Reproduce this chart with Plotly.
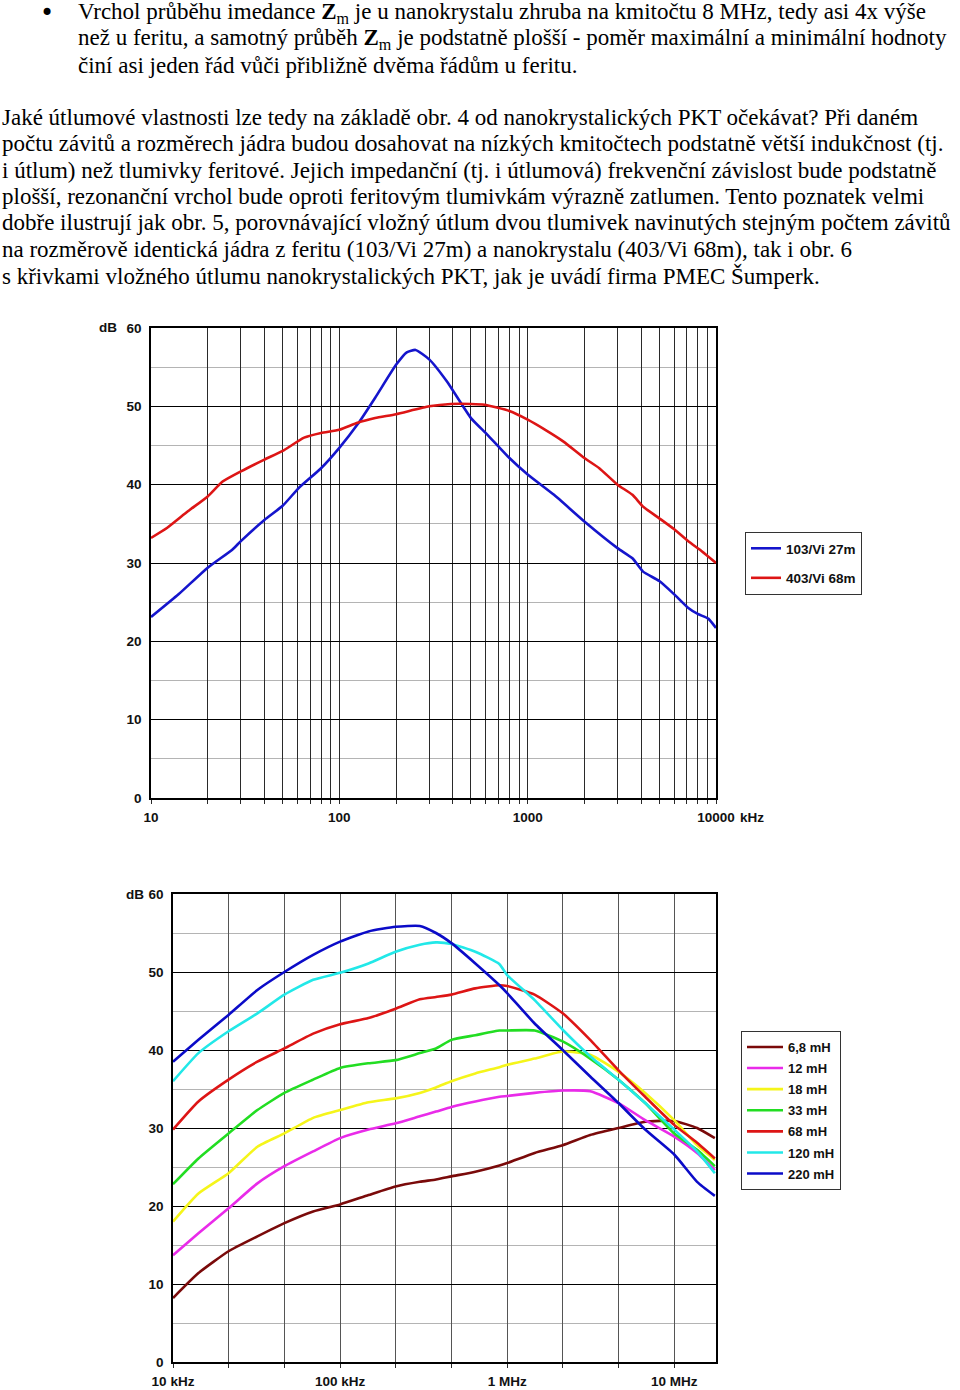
import plotly.graph_objects as go

# ---------------- Text ----------------
bullet_lines = [
    "Vrchol průběhu imedance <b>Z</b><sub>m</sub> je u nanokrystalu zhruba na kmitočtu 8 MHz, tedy asi 4x výše",
    "než u feritu, a samotný průběh <b>Z</b><sub>m</sub> je podstatně plošší - poměr maximální a minimální hodnoty",
    "činí asi jeden řád vůči přibližně dvěma řádům u feritu.",
]
para_lines = [
    "Jaké útlumové vlastnosti lze tedy na základě obr. 4 od nanokrystalických PKT očekávat? Při daném",
    "počtu závitů a rozměrech jádra budou dosahovat na nízkých kmitočtech podstatně větší indukčnost (tj.",
    "i útlum) než tlumivky feritové. Jejich impedanční (tj. i útlumová) frekvenční závislost bude podstatně",
    "plošší, rezonanční vrchol bude oproti feritovým tlumivkám výrazně zatlumen. Tento poznatek velmi",
    "dobře ilustrují jak obr. 5, porovnávající vložný útlum dvou tlumivek navinutých stejným počtem závitů",
    "na rozměrově identická jádra z feritu (103/Vi 27m) a nanokrystalu (403/Vi 68m), tak i obr. 6",
    "s křivkami vložného útlumu nanokrystalických PKT, jak je uvádí firma PMEC Šumperk.",
]

# ---------------- Chart 1 data (kHz, dB) ----------------
c1_names = ["103/Vi 27m", "403/Vi 68m"]
c1_colors = ["#1515cc", "#dd1515"]
c1_blue_f = [10, 14, 20, 27, 30, 40, 50, 61, 80, 100, 125, 155, 200, 228, 254, 300, 372, 500, 610, 800,
             1000, 1380, 2000, 3000, 3600, 4100, 5000, 6000, 7100, 8000, 9100, 10000]
c1_blue_db = [23.1, 26.0, 29.4, 31.7, 32.8, 35.5, 37.3, 39.6, 42.1, 44.7, 47.7, 51.1, 55.3, 56.9, 57.2, 56.0,
              53.2, 48.5, 46.4, 43.4, 41.3, 38.7, 35.3, 31.9, 30.6, 28.9, 27.7, 26.0, 24.3, 23.5, 22.9, 21.7]
c1_red_f = [10, 12.2, 15.7, 20, 24, 30, 40, 50, 65, 80, 100, 125, 155, 200, 300, 390, 500, 590, 800, 1000,
            1240, 1550, 2000, 2400, 3000, 3600, 4100, 5000, 6000, 7100, 8400, 10000]
c1_red_db = [33.2, 34.5, 36.6, 38.5, 40.4, 41.7, 43.2, 44.3, 46.0, 46.6, 47.0, 47.9, 48.5, 49.0, 50.0, 50.3,
             50.3, 50.2, 49.4, 48.3, 47.0, 45.5, 43.4, 42.1, 40.0, 38.7, 37.2, 35.7, 34.3, 32.8, 31.5, 30.0]

c1_grid = [10, 20, 30, 40, 50, 60, 70, 80, 90, 100, 200, 300, 400, 500, 600, 700, 800, 900,
           1000, 2000, 3000, 4000, 5000, 6000, 7000, 8000, 9000, 10000]
c1_gridtext = ["10"] + [""] * 8 + ["100"] + [""] * 8 + ["1000"] + [""] * 8 + ["10000"]

# ---------------- Chart 2 data (kHz, dB) ----------------
c2_f = [10, 14.2, 21.5, 32, 46.4, 69, 100, 148, 215, 300, 375, 464, 645, 900, 1000, 1460, 2150, 3140,
        4640, 6700, 10000, 13700, 17500]
c2_names = ["6,8 mH", "12 mH", "18 mH", "33 mH", "68 mH", "120 mH", "220 mH"]
c2_colors = ["#7a0a0a", "#e92be9", "#f5f51a", "#22dd22", "#dd1515", "#22e8e8", "#0b0bc8"]
c2_db_6_8mH = [8.2, 11.4, 14.2, 16.1, 17.8, 19.3, 20.2, 21.4, 22.5, 23.1, 23.4, 23.8, 24.4, 25.2,
               25.5, 26.8, 27.8, 29.1, 30.0, 30.8, 30.9, 30.0, 28.7]
c2_db_12mH = [13.7, 16.5, 19.7, 22.9, 25.1, 27.0, 28.7, 29.8, 30.6, 31.5, 32.1, 32.7, 33.4, 34.0, 34.1,
              34.5, 34.8, 34.7, 33.2, 31.0, 28.9, 26.8, 24.6]
c2_db_18mH = [18.0, 21.6, 24.2, 27.6, 29.3, 31.3, 32.3, 33.3, 33.8, 34.5, 35.2, 36.0, 37.0, 37.8, 38.1,
              38.9, 39.8, 39.4, 37.2, 34.5, 31.0, 27.8, 25.9]
c2_db_33mH = [22.8, 26.1, 29.3, 32.3, 34.5, 36.2, 37.7, 38.3, 38.7, 39.6, 40.2, 41.3, 41.9, 42.5, 42.5,
              42.5, 41.1, 38.9, 36.2, 33.2, 29.3, 27.2, 25.1]
c2_db_68mH = [29.8, 33.4, 36.2, 38.5, 40.2, 42.1, 43.3, 44.1, 45.3, 46.5, 46.8, 47.1, 47.9, 48.3, 48.2,
              47.1, 44.7, 41.3, 37.4, 34.0, 30.4, 28.1, 26.1]
c2_db_120mH = [36.0, 39.6, 42.4, 44.7, 47.1, 49.0, 49.9, 51.1, 52.6, 53.5, 53.8, 53.6, 52.6, 51.0, 49.6,
               46.4, 42.6, 39.2, 36.2, 33.2, 29.8, 27.0, 24.2]
c2_db_220mH = [38.5, 41.3, 44.5, 47.7, 50.0, 52.2, 53.9, 55.2, 55.8, 55.9, 55.0, 53.7, 51.1, 48.3, 47.3,
               43.4, 40.0, 36.6, 33.2, 29.8, 26.6, 23.1, 21.3]
c2_series = [c2_db_6_8mH, c2_db_12mH, c2_db_18mH, c2_db_33mH, c2_db_68mH, c2_db_120mH, c2_db_220mH]

c2_grid = [10, 21.544, 46.416, 100, 215.44, 464.16, 1000, 2154.4, 4641.6, 10000]
c2_gridtext = ["10 kHz", "", "", "100 kHz", "", "", "1 MHz", "", "", "10 MHz"]

# ---------------- Figure ----------------
W, H = 960, 1390
def px(x):
    return x / W
def py(y):
    return 1 - y / H

sans = "Liberation Sans Narrow, Liberation Sans, Arial"
tick_font = dict(family=sans, size=13.5, color="#111", weight="bold")
leg1_font = dict(family=sans, size=13.5, color="#111", weight="bold")
leg2_font = dict(family=sans, size=13, color="#111", weight="bold")

fig = go.Figure()

for name, col, fx, dy, g in [(c1_names[0], c1_colors[0], c1_blue_f, c1_blue_db, "g1"),
                             (c1_names[1], c1_colors[1], c1_red_f, c1_red_db, "g2")]:
    fig.add_trace(go.Scatter(x=fx, y=dy, mode="lines", name=name,
                             line=dict(color=col, width=2.6, shape="spline", smoothing=0.5),
                             xaxis="x", yaxis="y", legend="legend", legendgroup=g))

for i, (name, col, dy) in enumerate(zip(c2_names, c2_colors, c2_series)):
    fig.add_trace(go.Scatter(x=c2_f, y=dy, mode="lines", name=name,
                             line=dict(color=col, width=2.6, shape="spline", smoothing=0.5),
                             xaxis="x2", yaxis="y2", legend="legend2", legendgroup="h%d" % i))

common_x = dict(type="log", showgrid=True, gridwidth=1, showline=True,
                linecolor="black", linewidth=1.5, mirror=True, ticks="outside", ticklen=4,
                tickcolor="#2a2a2a", tickfont=tick_font, zeroline=False, ticklabelstandoff=2,
                automargin=False)
common_y = dict(range=[0, 60], tick0=0, dtick=10, showgrid=True, gridcolor="black", gridwidth=1.2,
                minor=dict(dtick=5, showgrid=True, gridcolor="#b4b4b4", gridwidth=1.2),
                showline=True, linecolor="black", linewidth=1.5, mirror=True, ticks="",
                tickfont=tick_font, zeroline=False, ticklabelstandoff=5, automargin=False)

fig.update_layout(
    width=W, height=H, margin=dict(l=0, r=0, t=0, b=0, pad=0, autoexpand=False),
    paper_bgcolor="white", plot_bgcolor="white", showlegend=True,
    xaxis=dict(common_x, domain=[px(151), px(716)], range=[1, 4], tickvals=c1_grid,
               ticktext=c1_gridtext, anchor="y", gridcolor="#2a2a2a"),
    yaxis=dict(common_y, domain=[py(798), py(328)], anchor="x"),
    xaxis2=dict(common_x, domain=[px(173), px(716)], range=[1, 4.25], tickvals=c2_grid,
                ticktext=c2_gridtext, anchor="y2", gridcolor="#555555"),
    yaxis2=dict(common_y, domain=[py(1362), py(894)], anchor="x2"),
    legend=dict(x=px(745), y=py(532), xanchor="left", yanchor="top", bgcolor="white",
                bordercolor="#333", borderwidth=1, font=leg1_font, tracegroupgap=9,
                traceorder="grouped", itemwidth=30),
    legend2=dict(x=px(741), y=py(1031), xanchor="left", yanchor="top", bgcolor="white",
                 bordercolor="#333", borderwidth=1, font=leg2_font, tracegroupgap=1.2,
                 traceorder="grouped", itemwidth=36),
)

serif = dict(family="Liberation Serif, Times New Roman, serif", size=23, color="black")
ann = []
ann.append(dict(x=px(47), y=py(13), text="•", showarrow=False, xanchor="center", yanchor="middle",
                xref="paper", yref="paper",
                font=dict(family="DejaVu Sans, sans-serif", size=24, color="black")))
for i, t in enumerate(bullet_lines):
    ann.append(dict(x=px(76), y=py(13 + i * 26.2), text=t, showarrow=False, xanchor="left",
                    yanchor="middle", xref="paper", yref="paper", font=serif))
for i, t in enumerate(para_lines):
    ann.append(dict(x=px(0), y=py(117 + i * 26.5), text=t, showarrow=False, xanchor="left",
                    yanchor="middle", xref="paper", yref="paper", font=serif))
ann.append(dict(x=px(108), y=py(328), text="dB", showarrow=False, xref="paper", yref="paper",
                font=tick_font, xanchor="center", yanchor="middle"))
ann.append(dict(x=px(752), y=py(817), text="kHz", showarrow=False, xref="paper", yref="paper",
                font=tick_font, xanchor="center", yanchor="middle"))
ann.append(dict(x=px(135), y=py(894), text="dB", showarrow=False, xref="paper", yref="paper",
                font=tick_font, xanchor="center", yanchor="middle"))
fig.update_layout(annotations=ann)

fig.write_html("out.html")
